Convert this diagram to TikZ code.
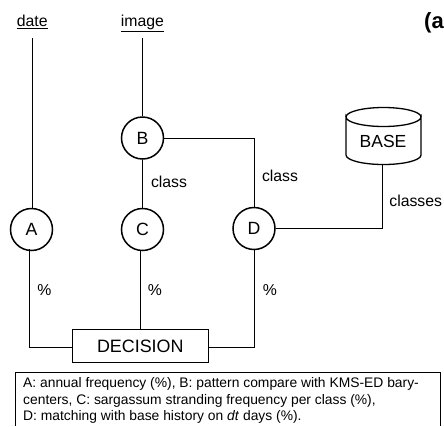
\documentclass[tikz,border=0pt]{standalone}
\usepackage{fontspec}
\setmainfont{Liberation Sans}
\tikzset{
  opnode/.style={circle,draw,line width=1.5pt,minimum size=42pt,inner sep=0pt,font=\fontsize{17.7}{20}\selectfont},
  labtext/.style={inner sep=0pt,anchor=base,font=\fontsize{15.8}{18}\selectfont},
  linkline/.style={line width=1pt},
}
\begin{document}
\begin{tikzpicture}[x=1pt,y=1pt]
\useasboundingbox (0,0) rectangle (444,-426);
\node[labtext] (date) at (32.3,-26.5) {\underline{date}};
\node[labtext] (image) at (142.5,-26.5) {\underline{image}};
\coordinate (dateend) at (32,-38);
\coordinate (imageend) at (142.5,-38);
\node[opnode] (A) at (31.5,-229.5) {A};
\node[opnode] (B) at (142.5,-138) {B};
\node[opnode] (C) at (142.5,-229.5) {C};
\node[opnode] (D) at (254,-228.5) {D};
\node[draw,line width=1.5pt,minimum width=136pt,minimum height=33pt,inner sep=0pt,font=\fontsize{17.9}{20}\selectfont] (dec) at (140.3,-346) {DECISION};
\draw[line width=1.3pt] (346,-117) arc[start angle=180,end angle=360,x radius=37.5,y radius=9.5] -- (421,-155) arc[start angle=360,end angle=180,x radius=37.5,y radius=9.5] -- cycle;
\draw[line width=1.3pt] (346,-117) arc[start angle=180,end angle=0,x radius=37.5,y radius=9.5];
\node[inner sep=0pt,anchor=base,font=\fontsize{17.5}{20}\selectfont] (base) at (383,-147.7) {BASE};
\coordinate (basebot) at (382,-164.5);
\coordinate (aup) at (29.5,-249);
\coordinate (adown) at (29.5,-347);
\coordinate (cdown) at (140,-250);
\coordinate (ddown) at (254.5,-249);
\coordinate (dcorner) at (254.5,-347);
\coordinate (bcorner) at (254,-138);
\draw[linkline] (dateend) -- (A.north -| dateend);
\draw[linkline] (imageend) -- (B.north);
\draw[linkline] (B.south) -- (C.north);
\draw[linkline] (B.east) -- (bcorner) -- (D.north);
\draw[linkline] (D.east) -- (D.east -| basebot) -- (basebot);
\draw[linkline] (aup) -- (adown) -- (dec.west |- adown);
\draw[linkline] (cdown) -- (dec.north -| cdown);
\draw[linkline] (ddown) -- (dcorner) -- (dec.east |- dcorner);
\node[labtext] (l1) at (169,-187.7) {class};
\node[labtext] (l2) at (280,-181) {class};
\node[labtext] (l3) at (415.7,-206) {classes};
\node[labtext] (p1) at (44.3,-295.7) {\%};
\node[labtext] (p2) at (155,-295.7) {\%};
\node[labtext] (p3) at (270,-295.7) {\%};
\node[inner sep=0pt,anchor=west,font=\bfseries\fontsize{22}{24}\selectfont] (panel) at (424,-23) {(a};
\draw[line width=0.7pt] (15,-426) -- (15,-372) -- (440,-372) -- (440,-426);
\node[inner sep=0pt,anchor=north west,align=left,font=\fontsize{13.85}{16.5}\selectfont] (cap) at (23,-377.5) {A: annual frequency (\%), B: pattern compare with KMS-ED bary-\\centers, C: sargassum stranding frequency per class (\%),\\D: matching with base history on \textit{dt} days (\%).};
\end{tikzpicture}
\end{document}
